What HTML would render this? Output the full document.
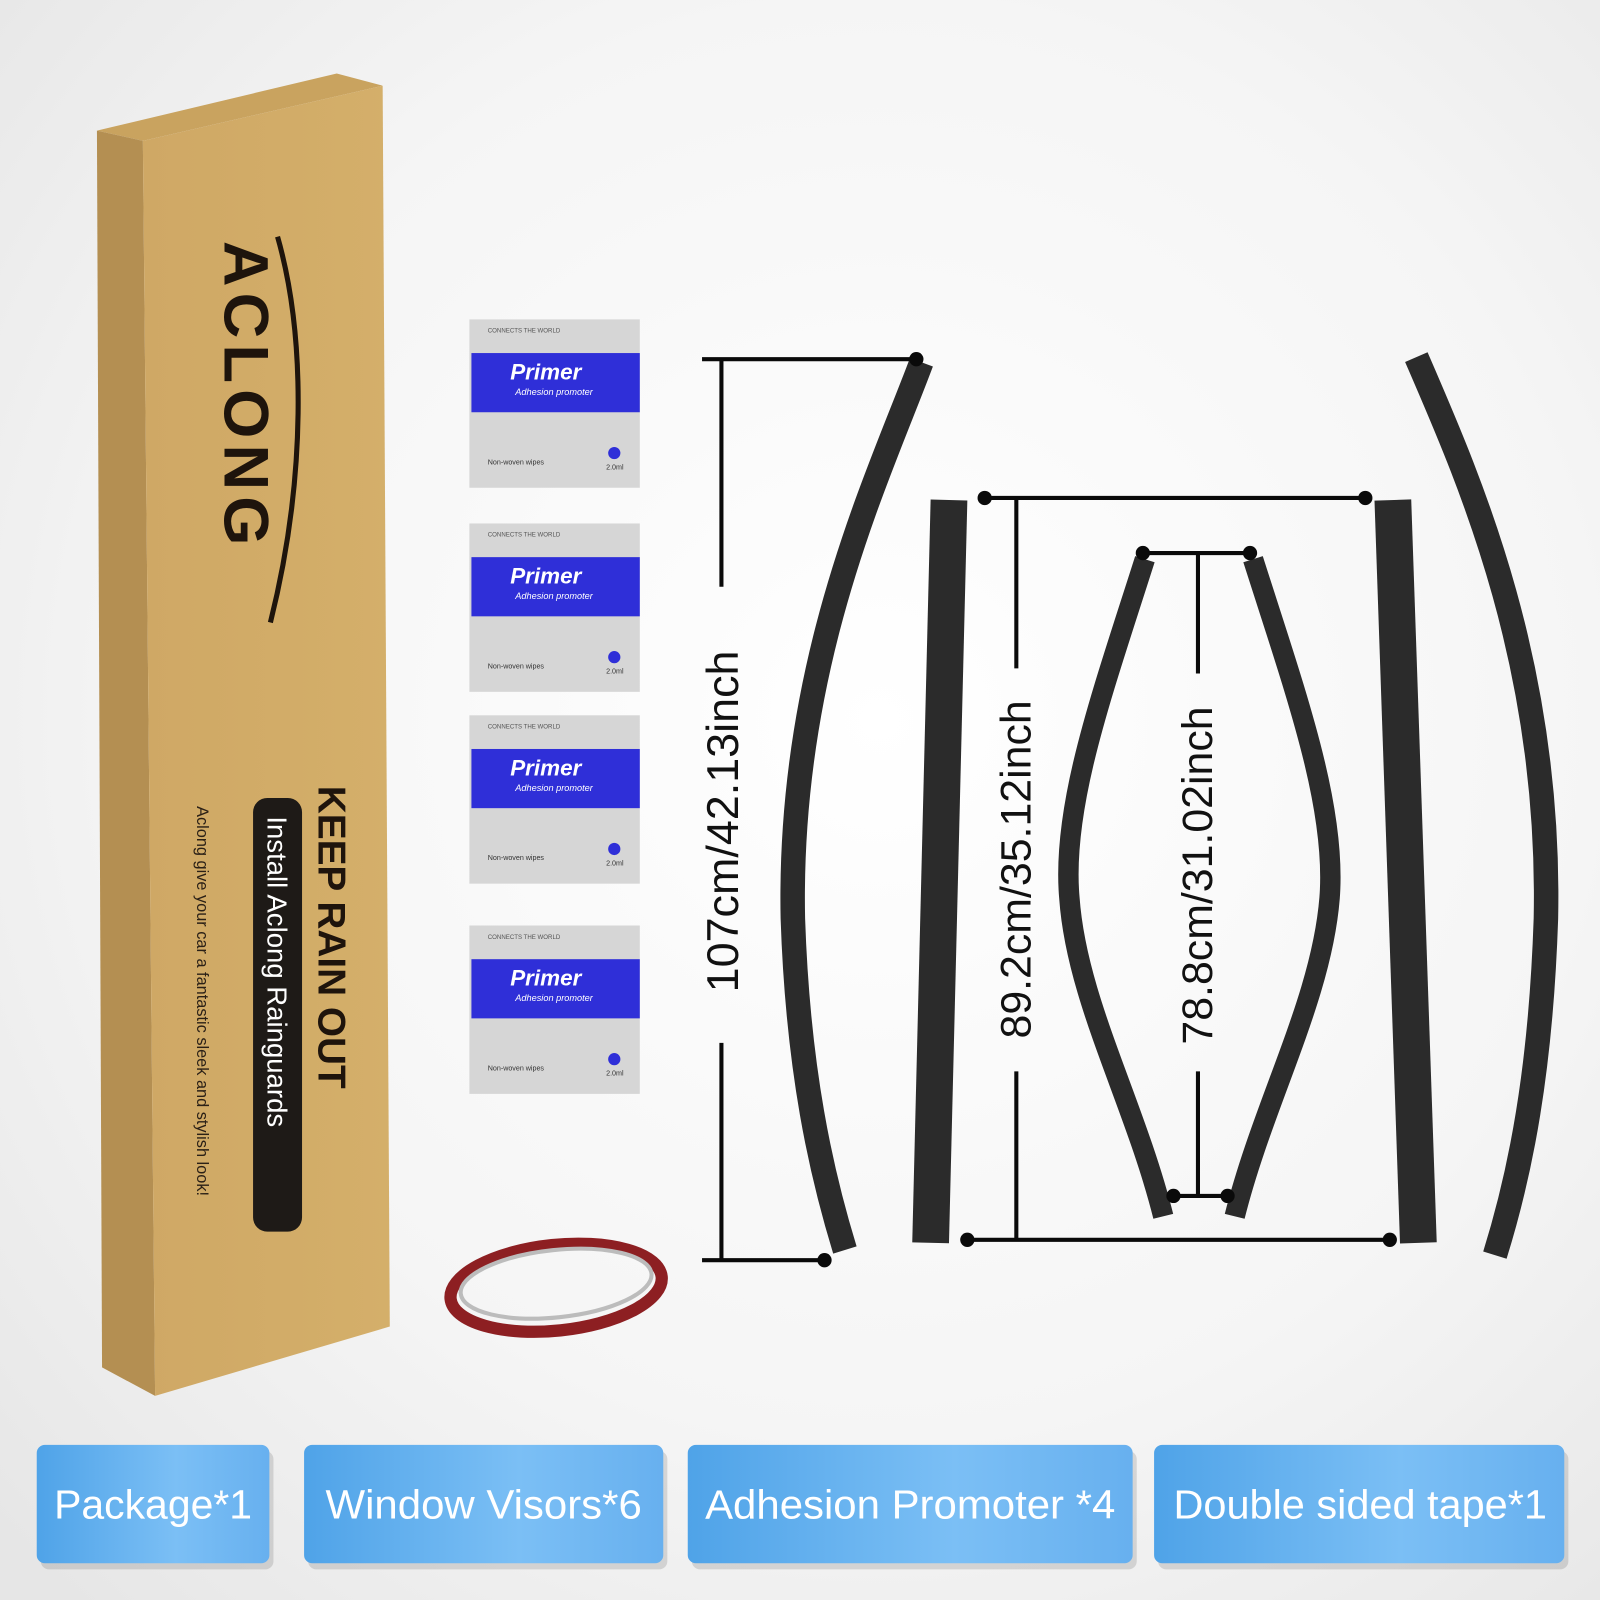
<!DOCTYPE html>
<html><head><meta charset="utf-8"><style>
html,body{margin:0;padding:0;width:1600px;height:1600px;overflow:hidden;background:#f2f2f2;}
svg{display:block}
text{font-family:"Liberation Sans",sans-serif}
</style></head><body>
<svg width="1600" height="1600" viewBox="0 0 1568 1568" xmlns="http://www.w3.org/2000/svg">
<defs>
<radialGradient id="bg" cx="0.55" cy="0.45" r="0.75">
<stop offset="0" stop-color="#ffffff"/><stop offset="0.6" stop-color="#f5f5f5"/><stop offset="1" stop-color="#e6e6e6"/>
</radialGradient>
<linearGradient id="btn" x1="0" x2="1" y1="0" y2="0">
<stop offset="0" stop-color="#4fa3e8"/><stop offset="0.6" stop-color="#7bbff5"/><stop offset="1" stop-color="#67b0ef"/>
</linearGradient>
<linearGradient id="boxf" x1="0" x2="1"><stop offset="0" stop-color="#cfa865"/><stop offset="1" stop-color="#d4af6a"/></linearGradient>
</defs>
<rect width="1568" height="1568" fill="url(#bg)"/>
<polygon points="95,128 330,72 375,84 140,138" fill="#c9a35f"/>
<polygon points="95,128 140,138 152,1368 100,1340" fill="#b48f52"/>
<polygon points="140,138 375,84 382,1300 152,1368" fill="url(#boxf)"/>
<text transform="translate(220,236) rotate(90)" font-size="62" font-weight="bold" fill="#1e140c" letter-spacing="6">ACLONG</text>
<path d="M272,232 C300,330 300,470 265,610" stroke="#1e140c" stroke-width="5" fill="none"/>
<text transform="translate(312,770) rotate(90)" font-size="38" font-weight="bold" fill="#1e140c">KEEP RAIN OUT</text>
<rect x="248" y="782" width="48" height="425" rx="14" fill="#1e1a17"/>
<text transform="translate(262,800) rotate(90)" font-size="27" fill="#fff">Install Aclong Rainguards</text>
<text transform="translate(193,790) rotate(90)" font-size="16" fill="#2a2016">Aclong give your car a fantastic sleek and stylish look!</text>
<g id="pk">
<rect x="460" y="313" width="167" height="165" fill="#d6d6d6"/>
<rect x="462" y="346" width="165" height="58" fill="#2f2fd8"/>
<text x="478" y="326" font-size="6" fill="#555">CONNECTS THE WORLD</text>
<text x="500" y="372" font-size="22" font-style="italic" font-weight="bold" fill="#fff">Primer</text>
<text x="505" y="387" font-size="9" font-style="italic" fill="#fff">Adhesion promoter</text>
<text x="478" y="455" font-size="7" fill="#333">Non-woven wipes</text>
<text x="594" y="460" font-size="7" fill="#333">2.0ml</text>
<circle cx="602" cy="444" r="6" fill="#2f2fd8"/>
</g>
<use href="#pk" y="200"/><use href="#pk" y="388"/><use href="#pk" y="594"/>
<ellipse cx="545" cy="1262" rx="104" ry="42" transform="rotate(-6 545 1262)" fill="none" stroke="#8d1f22" stroke-width="12"/>
<ellipse cx="545" cy="1258" rx="94" ry="33" transform="rotate(-6 545 1258)" fill="none" stroke="#bcbcbc" stroke-width="4"/>
<g fill="none" stroke="#2b2b2b" stroke-linecap="butt">
<path d="M903,355 C860,470 772,650 777,900 C782,1050 805,1150 828,1225" stroke-width="24"/>
<path d="M1388,350 C1440,470 1520,650 1515,900 C1510,1050 1490,1150 1465,1230" stroke-width="24"/>
<path d="M930,490 L912,1218" stroke-width="36"/>
<path d="M1365,490 L1390,1218" stroke-width="36"/>
<path d="M1122,548 C1080,680 1040,790 1048,880 C1055,980 1112,1080 1140,1192" stroke-width="20"/>
<path d="M1228,548 C1270,680 1310,790 1303,880 C1295,980 1238,1080 1210,1192" stroke-width="20"/>
</g>
<g stroke="#0a0a0a" stroke-width="4" fill="none">
<path d="M688,352 H898 M707,352 V575 M707,1022 V1235 M688,1235 H808"/>
<path d="M965,488 H1338 M948,1215 H1362 M996,488 V655 M996,1050 V1215"/>
<path d="M1120,542 H1225 M1150,1172 H1203 M1174,542 V660 M1174,1050 V1172"/>
</g>
<g fill="#0a0a0a">
<circle cx="898" cy="352" r="7"/><circle cx="808" cy="1235" r="7"/>
<circle cx="965" cy="488" r="7"/><circle cx="1338" cy="488" r="7"/><circle cx="948" cy="1215" r="7"/><circle cx="1362" cy="1215" r="7"/>
<circle cx="1120" cy="542" r="7"/><circle cx="1225" cy="542" r="7"/><circle cx="1150" cy="1172" r="7"/><circle cx="1203" cy="1172" r="7"/>
</g>
<text transform="translate(723,805) rotate(-90)" font-size="44" text-anchor="middle" fill="#111">107cm/42.13inch</text>
<text transform="translate(1010,852) rotate(-90)" font-size="42" text-anchor="middle" fill="#111">89.2cm/35.12inch</text>
<text transform="translate(1188,858) rotate(-90)" font-size="42" text-anchor="middle" fill="#111">78.8cm/31.02inch</text>
<g>
<rect x="40" y="1422" width="228" height="116" rx="8" fill="#000" opacity="0.12"/>
<rect x="36" y="1416" width="228" height="116" rx="8" fill="url(#btn)"/>
<rect x="302" y="1422" width="352" height="116" rx="8" fill="#000" opacity="0.12"/>
<rect x="298" y="1416" width="352" height="116" rx="8" fill="url(#btn)"/>
<rect x="678" y="1422" width="436" height="116" rx="8" fill="#000" opacity="0.12"/>
<rect x="674" y="1416" width="436" height="116" rx="8" fill="url(#btn)"/>
<rect x="1135" y="1422" width="402" height="116" rx="8" fill="#000" opacity="0.12"/>
<rect x="1131" y="1416" width="402" height="116" rx="8" fill="url(#btn)"/>
</g>
<g fill="#fff" font-size="40" text-anchor="middle">
<text x="150" y="1488" textLength="194" lengthAdjust="spacingAndGlyphs">Package*1</text>
<text x="474" y="1488" textLength="310" lengthAdjust="spacingAndGlyphs">Window Visors*6</text>
<text x="892" y="1488" textLength="402" lengthAdjust="spacingAndGlyphs">Adhesion Promoter *4</text>
<text x="1333" y="1488" textLength="366" lengthAdjust="spacingAndGlyphs">Double sided tape*1</text>
</g>
</svg>
</body></html>
